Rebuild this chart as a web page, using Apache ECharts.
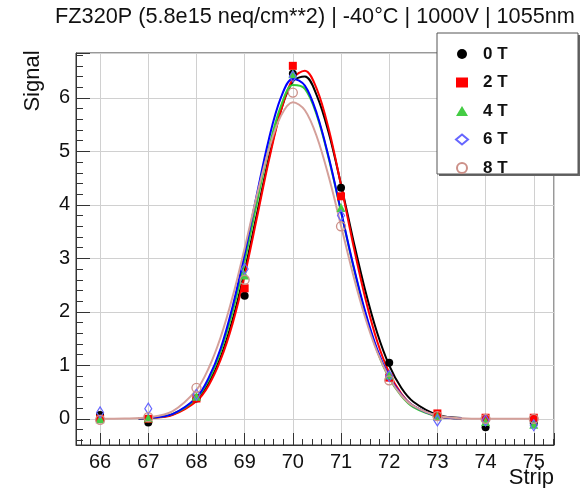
<!DOCTYPE html>
<html><head><meta charset="utf-8">
<script src="https://cdn.jsdelivr.net/npm/echarts@6/dist/echarts.min.js"></script>
<style>html,body{margin:0;padding:0;background:#fff}#c{width:582px;height:488px}</style>
</head><body><div id="c"></div>
<script>
const titleText = 'FZ320P (5.8e15 neq/cm**2) | -40°C | 1000V | 1055nm';
const xTitle = 'Strip';
const yTitle = 'Signal';
const seriesNames = ['0 T', '2 T', '4 T', '6 T', '8 T'];
const strips = [66, 67, 68, 69, 70, 71, 72, 73, 74, 75];
const sig0T = [0.07, -0.07, 0.38, 2.30, 6.45, 4.32, 1.05, 0.07, -0.16, -0.08];
const sig2T = [0.00, 0.00, 0.38, 2.44, 6.60, 4.16, 0.77, 0.10, 0.02, 0.02];
const sig4T = [0.00, 0.02, 0.42, 2.69, 6.45, 3.95, 0.82, 0.05, -0.05, -0.10];
const sig6T = [0.12, 0.19, 0.45, 2.80, 6.40, 3.80, 0.80, -0.03, -0.03, -0.12];
const sig8T = [-0.02, 0.03, 0.58, 2.60, 6.10, 3.60, 0.72, 0.05, 0.00, 0.00];
const fitX = [66.8, 67, 67.5, 68, 68.25, 68.5, 68.75, 69, 69.25, 69.5, 69.75, 70, 70.25, 70.5, 70.75, 71, 71.25, 71.5, 71.75, 72, 72.25, 72.5, 73, 73.5];
const fit0T = [0.006, 0.013, 0.079, 0.35, 0.66, 1.15, 1.85, 2.76, 3.81, 4.87, 5.76, 6.31, 6.40, 6.04, 5.33, 4.38, 3.36, 2.41, 1.61, 1.00, 0.58, 0.32, 0.076, 0.014];
const fit2T = [0.005, 0.012, 0.072, 0.33, 0.62, 1.10, 1.78, 2.68, 3.74, 4.82, 5.75, 6.36, 6.51, 6.16, 5.40, 4.37, 3.27, 2.27, 1.45, 0.86, 0.47, 0.24, 0.049, 0.007];
const fit4T = [0.006, 0.014, 0.086, 0.38, 0.72, 1.25, 2.00, 2.95, 4.02, 5.05, 5.84, 6.24, 6.17, 5.67, 4.85, 3.87, 2.87, 1.98, 1.27, 0.76, 0.43, 0.22, 0.048, 0.008];
const fit6T = [0.006, 0.014, 0.088, 0.40, 0.76, 1.31, 2.10, 3.08, 4.18, 5.22, 6.00, 6.36, 6.23, 5.70, 4.87, 3.88, 2.89, 2.01, 1.30, 0.79, 0.45, 0.24, 0.053, 0.009];
const fit8TX = [66, 66.5, 67, 67.5, 68, 68.25, 68.5, 68.75, 69, 69.25, 69.5, 69.75, 70, 70.25, 70.5, 70.75, 71, 71.25, 71.5, 71.75, 72, 72.25, 72.5, 73, 73.5, 74, 74.5, 75];
const fit8T = [0, 0.004, 0.028, 0.14, 0.54, 0.94, 1.52, 2.28, 3.19, 4.16, 5.03, 5.66, 5.92, 5.77, 5.27, 4.51, 3.61, 2.70, 1.90, 1.25, 0.77, 0.44, 0.24, 0.057, 0.010, 0, 0, 0];

const FONT = 'Liberation Sans, Arial, Helvetica, sans-serif';
const colors = ['#000000', '#ff0000', '#33cc33', '#0000ff', '#d4a09a'];
const markerStyles = [
  { symbol: 'circle', size: 8, itemStyle: { color: '#000000', opacity: 1 } },
  { symbol: 'rect', size: 8, itemStyle: { color: '#ff0000', opacity: 1 } },
  { symbol: 'triangle', size: 9, itemStyle: { color: '#44cc44', opacity: 1 } },
  { symbol: 'diamond', size: [7, 11], itemStyle: { color: 'rgba(255,255,255,0)', borderColor: '#6666ff', borderWidth: 1.2, opacity: 1 } },
  { symbol: 'circle', size: 9, itemStyle: { color: 'rgba(255,255,255,0)', borderColor: '#cc9088', borderWidth: 1.3, opacity: 1 } }
];
const sigs = [sig0T, sig2T, sig4T, sig6T, sig8T];
const fits = [[fitX, fit0T], [fitX, fit2T], [fitX, fit4T], [fitX, fit6T], [fit8TX, fit8T]];

const series = [];
fits.forEach(([xs, ys], k) => {
  series.push({
    type: 'line', silent: true, showSymbol: false, smooth: 0.35, z: 2,
    data: xs.map((x, i) => [x, ys[i]]),
    lineStyle: { color: colors[k], width: 2 }
  });
});
sigs.forEach((arr, k) => {
  const m = markerStyles[k];
  series.push({
    type: 'scatter', name: seriesNames[k], z: 5,
    symbol: m.symbol, symbolSize: m.size, itemStyle: m.itemStyle,
    emphasis: { disabled: true },
    data: strips.map((s, i) => [s, arr[i]])
  });
});

const chart = echarts.init(document.getElementById('c'));
chart.setOption({
  animation: false,
  backgroundColor: '#ffffff',
  grid: { left: 76, right: 28, top: 53, bottom: 43, show: true, borderColor: '#333', borderWidth: 1, backgroundColor: 'transparent' },
  xAxis: {
    type: 'value', min: 65.5, max: 75.42, minInterval: 1, maxInterval: 1,
    axisLine: { show: true, onZero: false, lineStyle: { color: '#333', width: 1 } },
    axisTick: { show: true, inside: true, length: 12, lineStyle: { color: '#333' } },
    minorTick: { show: true, splitNumber: 5, length: 6, lineStyle: { color: '#333' } },
    axisLabel: { fontSize: 20, fontFamily: FONT, color: '#111', margin: 7, showMinLabel: false, showMaxLabel: false },
    splitLine: { show: true, lineStyle: { color: '#d0d0d0', width: 1 } }
  },
  yAxis: {
    type: 'value', min: -0.49, max: 6.84, minInterval: 1, maxInterval: 1,
    axisLine: { show: true, onZero: false, lineStyle: { color: '#333', width: 1 } },
    axisTick: { show: true, inside: true, length: 14, lineStyle: { color: '#333' } },
    minorTick: { show: true, splitNumber: 5, length: 7, lineStyle: { color: '#333' } },
    axisLabel: { fontSize: 20, fontFamily: FONT, color: '#111', margin: 6, showMinLabel: false, showMaxLabel: false },
    splitLine: { show: true, lineStyle: { color: '#d0d0d0', width: 1 } }
  },
  legend: {
    orient: 'vertical', left: 450, top: 40, z: 12,
    itemWidth: 12, itemHeight: 10, itemGap: 10.5,
    data: seriesNames,
    textStyle: { fontFamily: FONT, fontWeight: 'bold', fontSize: 17, lineHeight: 18, color: '#111', padding: [0, 0, 0, 10] }
  },
  graphic: [
    { type: 'rect', z: 10, shape: { x: 439, y: 35, width: 141, height: 141 }, style: { fill: '#666' } },
    { type: 'rect', z: 10, shape: { x: 437, y: 33, width: 141, height: 141 }, style: { fill: '#fff', stroke: '#555', lineWidth: 1 } },
    { type: 'text', z: 10, x: 315, y: 17, style: { text: titleText, align: 'center', verticalAlign: 'middle', fontSize: 21.7, fontFamily: FONT, fill: '#111' } },
    { type: 'text', z: 10, x: 33, y: 81, rotation: Math.PI / 2, style: { text: yTitle, align: 'center', verticalAlign: 'middle', fontSize: 22, fontFamily: FONT, fill: '#111' } },
    { type: 'text', z: 10, x: 554, y: 478, style: { text: xTitle, align: 'right', verticalAlign: 'middle', fontSize: 22, fontFamily: FONT, fill: '#111' } }
  ],
  series: series
});
</script>
</body></html>
